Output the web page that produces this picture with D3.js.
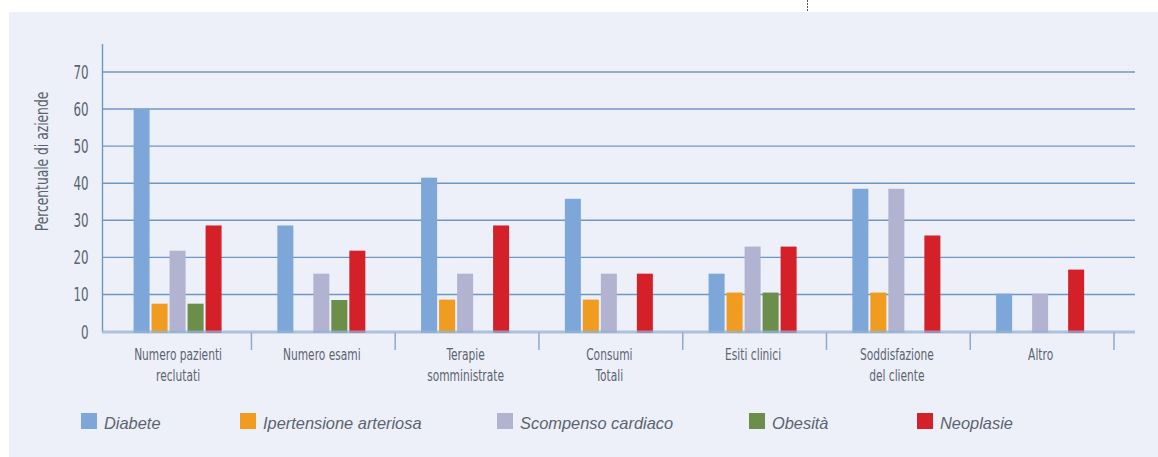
<!DOCTYPE html>
<html><head><meta charset="utf-8">
<script src="https://cdn.jsdelivr.net/npm/d3@7"></script>
<style>
html,body{margin:0;padding:0;background:#fff;}
svg{display:block;}
.cond{font-family:"DejaVu Sans Condensed","DejaVu Sans",sans-serif;font-stretch:condensed;}
</style></head>
<body>
<svg id="chart" width="1158" height="457"></svg>
<script>
const categories = [["Numero pazienti","reclutati"],["Numero esami"],["Terapie","somministrate"],["Consumi","Totali"],["Esiti clinici"],["Soddisfazione","del cliente"],["Altro"]];
const seriesNames = ["Diabete","Ipertensione arteriosa","Scompenso cardiaco","Obesità","Neoplasie"];
const seriesColors = ["#7da7d8","#f09c20","#b2b3d0","#6b8e4a","#d42029"];
const diabete      = [60, 28.6, 41.5, 35.8, 15.6, 38.5, 10.2];
const ipertensione = [7.5, 0, 8.6, 8.6, 10.5, 10.5, 0];
const scompenso    = [21.8, 15.6, 15.6, 15.6, 22.9, 38.5, 10.2];
const obesita      = [7.5, 8.5, 0, 0, 10.5, 0, 0];
const neoplasie    = [28.6, 21.8, 28.6, 15.6, 22.9, 25.9, 16.7];
const yTicks = [0,10,20,30,40,50,60,70];

const seriesValues = [diabete, ipertensione, scompenso, obesita, neoplasie];
const svg = d3.select("#chart");
const textColor = "#5c6470";

// panel
svg.append("rect").attr("x",9).attr("y",12).attr("width",1149).attr("height",445).attr("fill","#edf0f9");
svg.append("line").attr("x1",807.5).attr("x2",807.5).attr("y1",0).attr("y2",11)
  .attr("stroke","#555").attr("stroke-dasharray","2,1").attr("stroke-width",1);

const catKeys = categories.map(c=>c.join(" "));
const x0 = d3.scaleBand().domain(catKeys).range([107.7,1114]).paddingInner(0).paddingOuter(0);
const x1 = d3.scaleBand().domain(seriesNames).range([0,88]).paddingInner(1/9).paddingOuter(0);
const y = d3.scaleLinear().domain([0,70]).range([331.5,72]);

// gridlines
svg.append("g").selectAll("line").data(yTicks.filter(d=>d>0)).join("line")
  .attr("x1",102).attr("x2",1135).attr("y1",d=>y(d)).attr("y2",d=>y(d))
  .attr("stroke","#7097c2").attr("stroke-width",1.4);

// y axis line
svg.append("line").attr("x1",102.5).attr("x2",102.5).attr("y1",44).attr("y2",y(0))
  .attr("stroke","#7097c2").attr("stroke-width",1.4);

// y tick labels (condensed by horizontal scaling)
svg.append("g").selectAll("text").data(yTicks).join("text").attr("class","cond")
  .attr("transform",d=>`translate(88.5,${y(d)+7}) scale(0.66,1)`).attr("text-anchor","end")
  .attr("font-size",20).attr("fill",textColor).text(d=>d);

// y title
svg.append("text").attr("class","cond")
  .attr("transform","translate(48,161.5) rotate(-90) scale(0.78,1)")
  .attr("text-anchor","middle").attr("font-size",17.5).attr("fill",textColor)
  .text("Percentuale di aziende");

// bars
const groups = svg.append("g").selectAll("g").data(catKeys).join("g")
  .attr("transform",k=>`translate(${x0(k)+x0.bandwidth()/2-46},0)`);
groups.selectAll("rect").data((k,i)=>seriesNames.map((s,j)=>({s,j,v:seriesValues[j][i]})).filter(d=>d.v>0))
  .join("rect")
  .attr("x",d=>x1(d.s)).attr("width",x1.bandwidth())
  .attr("y",d=>y(d.v)).attr("height",d=>y(0)+1.5-y(d.v))
  .attr("fill",d=>seriesColors[d.j]);

// baseline
svg.append("line").attr("x1",102).attr("x2",1135).attr("y1",y(0)+0.5).attr("y2",y(0)+0.5)
  .attr("stroke","rgba(150,178,210,0.75)").attr("stroke-width",3);

// x ticks (category boundaries)
svg.append("g").selectAll("line").data(catKeys.slice(1).map(k=>x0(k)).concat([x0.range()[1]])).join("line")
  .attr("x1",d=>d).attr("x2",d=>d).attr("y1",y(0)+1).attr("y2",350)
  .attr("stroke","#8eaacb").attr("stroke-width",1.5);

// x labels
const lab = svg.append("g").selectAll("text").data(categories).join("text").attr("class","cond")
  .attr("transform",(c,i)=>`translate(${x0(catKeys[i])+x0.bandwidth()/2-1.5},360) scale(0.74,1)`)
  .attr("text-anchor","middle").attr("font-size",16).attr("fill",textColor);
lab.selectAll("tspan").data(c=>c).join("tspan")
  .attr("x",0).attr("dy",(d,i)=>i===0?0:21).text(d=>d);

// legend
const legendX = [81,240,497,749,917];
const leg = svg.append("g").selectAll("g").data(seriesNames).join("g")
  .attr("transform",(d,i)=>`translate(${legendX[i]},413)`);
leg.append("rect").attr("width",16).attr("height",16).attr("fill",(d,i)=>seriesColors[i]);
leg.append("text").attr("x",23).attr("y",15.5)
  .attr("font-family","'Liberation Sans',Arial,sans-serif").attr("font-style","italic")
  .attr("font-size",16.4).attr("fill",textColor).text(d=>d);
</script>
</body></html>
